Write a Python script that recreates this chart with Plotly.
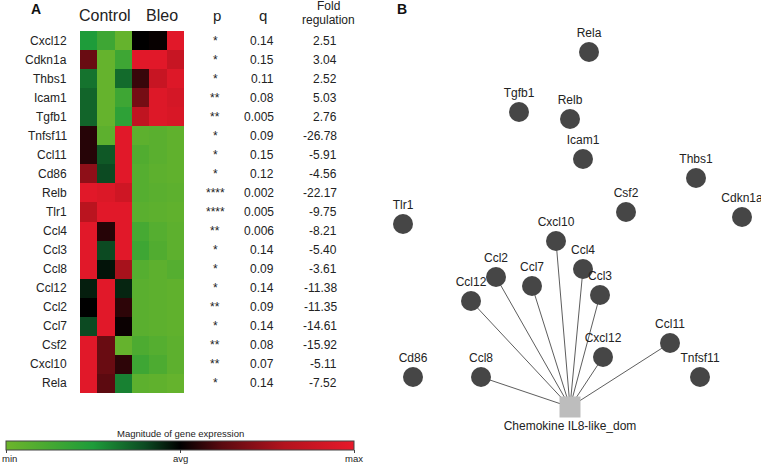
import plotly.graph_objects as go

W, H = 761, 464

genes = ["Cxcl12", "Cdkn1a", "Thbs1", "Icam1", "Tgfb1", "Tnfsf11", "Ccl11", "Cd86",
         "Relb", "Tlr1", "Ccl4", "Ccl3", "Ccl8", "Ccl12", "Ccl2", "Ccl7", "Csf2",
         "Cxcl10", "Rela"]
samples = ["C1", "C2", "C3", "B1", "B2", "B3"]
p_stars = ["*", "*", "*", "**", "**", "*", "*", "*", "****", "****", "**", "*", "*",
           "*", "**", "*", "**", "**", "*"]
q_vals = ["0.14", "0.15", "0.11", "0.08", "0.005", "0.09", "0.15", "0.12", "0.002",
          "0.005", "0.006", "0.14", "0.09", "0.14", "0.09", "0.14", "0.08", "0.07", "0.14"]
fold_vals = ["2.51", "3.04", "2.52", "5.03", "2.76", "-26.78", "-5.91", "-4.56", "-22.17",
             "-9.75", "-8.21", "-5.40", "-3.61", "-11.38", "-11.35", "-14.61", "-15.92",
             "-5.11", "-7.52"]

# relative expression (-1 = min, 0 = avg, 1 = max)
expr = [
    [-0.50, -0.70, -0.95, 0.00, 0.02, 0.95],
    [0.30, -0.95, -0.70, 0.95, 0.95, 0.75],
    [-0.35, -0.95, -0.32, 0.15, 0.75, 0.92],
    [-0.30, -0.95, -0.70, 0.35, 0.92, 0.85],
    [-0.30, -0.95, -0.60, 0.70, 0.92, 0.88],
    [0.10, -0.90, 0.95, -0.90, -0.88, -0.92],
    [0.10, -0.25, 0.95, -0.82, -0.88, -0.92],
    [0.45, -0.20, 0.95, -0.85, -0.90, -0.92],
    [0.95, 0.90, 0.80, -0.85, -0.88, -0.90],
    [0.65, 0.95, 0.95, -0.88, -0.90, -0.92],
    [0.95, 0.10, 0.95, -0.75, -0.85, -0.90],
    [0.95, -0.20, 0.95, -0.70, -0.82, -0.90],
    [0.95, -0.05, 0.55, -0.85, -0.90, -0.85],
    [-0.08, 0.95, -0.10, -0.88, -0.90, -0.92],
    [0.00, 0.95, 0.12, -0.88, -0.90, -0.92],
    [-0.20, 0.95, 0.03, -0.88, -0.90, -0.92],
    [0.95, 0.30, -0.95, -0.80, -0.85, -0.90],
    [0.95, 0.30, 0.12, -0.70, -0.80, -0.90],
    [0.95, 0.25, -0.40, -0.90, -0.92, -0.95],
]

colorscale = [
    [0.0, "#6db52b"],
    [0.25, "#1e9c3a"],
    [0.40, "#0c4a22"],
    [0.50, "#000000"],
    [0.62, "#5a0a10"],
    [0.80, "#b3131e"],
    [1.0, "#e8192a"],
]
scale_vals = [-1, 0, 1]
scale_text = ["min", "avg", "max"]

# network (panel B)
node_names = ["Rela", "Tgfb1", "Relb", "Icam1", "Thbs1", "Csf2", "Cdkn1a", "Tlr1",
              "Cxcl10", "Ccl2", "Ccl7", "Ccl4", "Ccl3", "Ccl12", "Ccl11", "Cxcl12",
              "Tnfsf11", "Cd86", "Ccl8"]
node_x = [589, 519, 570, 583, 696, 626, 742, 403, 556, 496, 532, 583, 600, 471, 670,
          603, 700, 413, 481]
node_y = [52, 112, 119, 159, 178, 212, 217, 224, 241, 277, 286, 269, 295, 301, 343,
          357, 377, 377, 377]
hub_name = "Chemokine IL8-like_dom"
hub_x, hub_y = 570, 407
linked = ["Ccl12", "Ccl2", "Ccl7", "Cxcl10", "Ccl4", "Ccl3", "Cxcl12", "Ccl11", "Ccl8"]

FONT = "Liberation Sans, Arial, sans-serif"
TXT = "#222222"
LABEL_GAP = 18

fig = go.Figure()

fig.add_trace(go.Heatmap(
    z=expr, x=list(range(len(samples))), y=list(range(len(genes))),
    colorscale=colorscale, zmin=-1, zmax=1, xaxis="x", yaxis="y",
    hoverinfo="skip",
    colorbar=dict(
        orientation="h", x=6 / W, xanchor="left", xpad=0,
        y=1 - 441 / H, yanchor="top", ypad=0,
        lenmode="pixels", len=348, thickness=9,
        outlinewidth=1, outlinecolor="#444444",
        tickvals=scale_vals, showticklabels=False,
        ticks="outside", ticklen=3, tickcolor="#444444",
    ),
))

# edges
ex, ey = [], []
for name in linked:
    i = node_names.index(name)
    ex += [hub_x, node_x[i], None]
    ey += [hub_y, node_y[i], None]
fig.add_trace(go.Scatter(x=ex, y=ey, mode="lines", xaxis="x2", yaxis="y2",
                         line=dict(color="#333333", width=0.8), hoverinfo="skip"))
fig.add_trace(go.Scatter(x=node_x, y=node_y, mode="markers", xaxis="x2", yaxis="y2",
                         marker=dict(size=20, color="#464646"), hoverinfo="skip"))
fig.add_trace(go.Scatter(x=node_x, y=[v - LABEL_GAP for v in node_y], mode="text",
                         text=node_names, textposition="middle center", cliponaxis=False,
                         xaxis="x2", yaxis="y2",
                         textfont=dict(family=FONT, size=12, color=TXT), hoverinfo="skip"))
fig.add_trace(go.Scatter(x=[hub_x], y=[hub_y], mode="markers", xaxis="x2", yaxis="y2",
                         marker=dict(size=21, symbol="square", color="#bdbdbd"),
                         hoverinfo="skip"))
fig.add_trace(go.Scatter(x=[hub_x], y=[hub_y + 20], mode="text", text=[hub_name],
                         textposition="middle center", cliponaxis=False,
                         xaxis="x2", yaxis="y2",
                         textfont=dict(family=FONT, size=12, color=TXT), hoverinfo="skip"))

ann = []
for i, g in enumerate(genes):
    ann.append(dict(x=69 / W, xref="paper", y=i, yref="y", text=g, xanchor="right",
                    showarrow=False, font=dict(family=FONT, size=12, color=TXT)))
    ann.append(dict(x=215 / W, xref="paper", y=i, yref="y", text=p_stars[i], xanchor="center",
                    showarrow=False, font=dict(family=FONT, size=12, color=TXT)))
    ann.append(dict(x=276 / W, xref="paper", y=i, yref="y", text=q_vals[i], xanchor="right",
                    showarrow=False, font=dict(family=FONT, size=12, color=TXT)))
    ann.append(dict(x=339 / W, xref="paper", y=i, yref="y", text=fold_vals[i], xanchor="right",
                    showarrow=False, font=dict(family=FONT, size=12, color=TXT)))


def paper_text(x, y, text, size, bold=False, anchor="center"):
    ann.append(dict(x=x / W, y=1 - y / H, xref="paper", yref="paper",
                    text=f"<b>{text}</b>" if bold else text, showarrow=False,
                    xanchor=anchor, yanchor="middle",
                    font=dict(family=FONT, size=size, color="#111111" if bold else TXT)))


paper_text(36, 9, "A", 14, bold=True)
paper_text(402, 9, "B", 14, bold=True)
paper_text(104.5, 15, "Control", 16)
paper_text(161.5, 15, "Bleo", 16)
paper_text(217, 15, "p", 15)
paper_text(263, 15, "q", 15)
paper_text(328, 6, "Fold", 12)
paper_text(328, 20, "regulation", 12)
paper_text(180, 433, "Magnitude of gene expression", 9.5)
# colour scale labels
paper_text(0, 458, scale_text[0], 9.5, anchor="left")
paper_text(180, 458, scale_text[1], 9.5)
paper_text(354, 458, scale_text[2], 9.5)

fig.update_layout(
    width=W, height=H, margin=dict(l=0, r=0, t=0, b=0),
    paper_bgcolor="white", plot_bgcolor="rgba(0,0,0,0)", showlegend=False,
    annotations=ann,
    xaxis=dict(domain=[80 / W, 184 / W], range=[-0.5, 5.5], visible=False, fixedrange=True),
    yaxis=dict(domain=[1 - 393 / H, 1 - 31 / H], range=[18.5, -0.5], visible=False,
               fixedrange=True),
    xaxis2=dict(domain=[0, 1], range=[0, W], visible=False, anchor="y2"),
    yaxis2=dict(domain=[0, 1], range=[H, 0], visible=False, anchor="x2"),
)

fig.write_html("out.html", config={"displayModeBar": False},
               post_script="document.body.style.margin='0';")
